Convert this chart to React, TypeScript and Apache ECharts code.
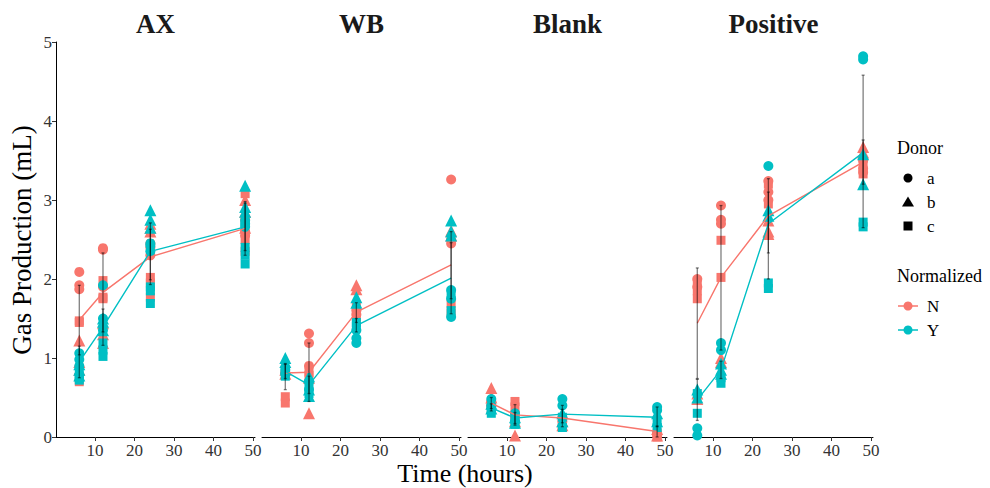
import React, { useEffect, useRef } from "react";
import * as echarts from "echarts";

// Facets, sampling times and factor levels
const panels = ["AX", "WB", "Blank", "Positive"];
const times = [6, 12, 24, 48];
const donors = ["a", "b", "c"];
const groups = ["N", "Y"];
const groupColors = ["#F8766D", "#00BFC4"];
const donorSymbols = ["circle", "triangle", "rect"];
const donorSizes = [10, 12, 9];
const xTicks = [10, 20, 30, 40, 50];

// Replicate readings (mL) per donor, one list per sampling time
const axN = {
  a: [[2.09, 1.92, 1.87], [2.39, 2.37, 1.9], [2.45, 2.4, 2.3], [2.75, 2.6, 2.55]],
  b: [[1.22, 0.95, 0.85], [1.44, 1.3, 1.19], [2.7, 2.65, 2.6], [3.0, 2.85, 2.65]],
  c: [[1.47, 1.45, 0.7], [1.98, 1.77, 1.75], [2.02, 1.95, 1.77], [3.08, 2.5, 2.35]],
};
const axY = {
  a: [[1.06, 0.98, 0.9], [1.92, 1.5, 1.35], [2.45, 2.42, 2.35], [2.74, 2.7, 2.66]],
  b: [[0.92, 0.85, 0.78], [1.5, 1.46, 1.35], [2.87, 2.75, 2.65], [3.18, 2.91, 2.85]],
  c: [[0.8, 0.75, 0.72], [1.19, 1.1, 1.02], [1.9, 1.85, 1.69], [2.4, 2.3, 2.19]],
};
const wbN = {
  a: [[0.82, 0.8], [1.31, 1.19, 0.9], [1.6, 1.55], [3.26, 2.45, 2.5]],
  b: [[0.85, 0.8], [0.3, 0.75], [1.92, 1.87], [2.61, 2.55]],
  c: [[0.51, 0.43], [0.82, 0.78], [1.65, 1.52], [1.69, 1.57]],
};
const wbY = {
  a: [[0.85, 0.8], [0.7, 0.6], [1.35, 1.19, 1.25], [1.86, 1.75, 1.52]],
  b: [[1.0, 0.95], [0.77, 0.52, 0.6], [1.77, 1.7], [2.74, 2.6, 2.55]],
  c: [[0.83, 0.77], [0.65, 0.55], [1.45, 1.4], [1.8, 1.6]],
};
const blankN = {
  a: [[0.45, 0.4], [0.3, 0.25], [0.25, 0.2], [0.05, 0.02]],
  b: [[0.62, 0.5], [0.02, 0.2], [0.2, 0.15], [0.1, 0.02]],
  c: [[0.4, 0.35], [0.45, 0.38], [0.15, 0.12], [0.05, 0.0]],
};
const blankY = {
  a: [[0.48, 0.4], [0.3, 0.2], [0.48, 0.4], [0.38, 0.34]],
  b: [[0.42, 0.36], [0.25, 0.18], [0.3, 0.2], [0.3, 0.2]],
  c: [[0.35, 0.3], [0.22, 0.16], [0.25, 0.12], [0.2, 0.12]],
};
const posN = {
  a: [[2.0, 1.9], [2.93, 2.75, 2.7], [3.24, 3.1, 3.0], [3.5, 3.4, 3.35]],
  b: [[0.55, 0.48], [1.0, 0.95], [2.74, 2.6, 2.57], [3.67, 3.6]],
  c: [[1.95, 1.85, 1.75], [2.49, 2.02], [3.2, 2.95], [3.45, 3.33]],
};
const posY = {
  a: [[0.11, 0.02], [1.19, 1.1], [3.43], [4.82, 4.78]],
  b: [[0.6, 0.5], [0.93, 0.85, 0.8], [2.87, 2.8], [3.58, 3.2]],
  c: [[0.55, 0.3], [0.75, 0.68], [1.95, 1.88], [2.72, 2.66]],
};

// Group means at each time
const axMeanN = [1.48, 1.83, 2.28, 2.64];
const axMeanY = [0.95, 1.39, 2.35, 2.66];
const wbMeanN = [0.81, 0.82, 1.58, 2.18];
const wbMeanY = [0.83, 0.66, 1.41, 2.01];
const blankMeanN = [0.43, 0.28, 0.24, 0.07];
const blankMeanY = [0.37, 0.24, 0.29, 0.25];
const posMeanN = [1.44, 2.02, 2.8, 3.48];
const posMeanY = [0.47, 0.85, 2.7, 3.6];

// Error bar limits [low, high] at each time
const axErrN = [[1.04, 1.92], [1.33, 2.33], [1.93, 2.63], [2.3, 2.98]];
const axErrY = [[0.75, 1.15], [1.16, 1.62], [1.99, 2.71], [2.36, 2.96]];
const wbErrN = [[0.6, 0.93], [0.45, 1.19], [1.45, 1.7], [1.75, 2.6]];
const wbErrY = [[0.74, 0.92], [0.55, 0.77], [1.33, 1.5], [1.56, 2.46]];
const blankErrN = [[0.36, 0.5], [0.15, 0.41], [0.13, 0.35], [0.0, 0.14]];
const blankErrY = [[0.33, 0.42], [0.17, 0.31], [0.18, 0.4], [0.13, 0.38]];
const posErrN = [[0.74, 2.14], [1.1, 2.93], [2.33, 3.27], [3.2, 3.76]];
const posErrY = [[0.21, 0.73], [0.74, 0.96], [2.0, 3.1], [2.65, 4.58]];

const replicates = [[axN, axY], [wbN, wbY], [blankN, blankY], [posN, posY]];
const means = [[axMeanN, axMeanY], [wbMeanN, wbMeanY], [blankMeanN, blankMeanY], [posMeanN, posMeanY]];
const errors = [[axErrN, axErrY], [wbErrN, wbErrY], [blankErrN, blankErrY], [posErrN, posErrY]];

const FONT = "Liberation Serif";
const panelLeft = [56, 262, 468, 674];
const panelWidth = 199;
const gridTop = 42;
const gridHeight = 395;

function buildOption() {
  const grid = panelLeft.map((l) => ({ left: l, top: gridTop, width: panelWidth, height: gridHeight }));

  const xAxis = panelLeft.map((_, i) => ({
    type: "value",
    gridIndex: i,
    min: 0.1,
    max: 50.5,
    splitLine: { show: false },
    axisLine: { show: true, lineStyle: { color: "#000", width: 1 } },
    axisTick: { show: true, length: 4, lineStyle: { color: "#333" }, customValues: xTicks },
    axisLabel: {
      show: true,
      customValues: xTicks,
      color: "#333",
      fontFamily: FONT,
      fontSize: 17,
      margin: 5,
    },
  }));

  const yAxis = panelLeft.map((_, i) => ({
    type: "value",
    gridIndex: i,
    min: 0,
    max: 5,
    interval: 1,
    splitLine: { show: false },
    axisLine: { show: i === 0, onZero: false, lineStyle: { color: "#000", width: 1 } },
    axisTick: { show: i === 0, length: 4, lineStyle: { color: "#333" } },
    axisLabel: { show: i === 0, color: "#333", fontFamily: FONT, fontSize: 17, margin: 4 },
  }));

  const series: any[] = [];

  // replicate points
  panels.forEach((_, p) => {
    groups.forEach((g, gi) => {
      donors.forEach((d, di) => {
        const vals = (replicates[p][gi] as any)[d] as number[][];
        const data: number[][] = [];
        vals.forEach((list, ti) => list.forEach((v) => data.push([times[ti], v])));
        series.push({
          type: "scatter",
          name: `${panels[p]}-${g}-${d}`,
          xAxisIndex: p,
          yAxisIndex: p,
          symbol: donorSymbols[di],
          symbolSize: donorSizes[di],
          itemStyle: { color: groupColors[gi], opacity: 1 },
          z: 2 + gi,
          silent: true,
          data,
        });
      });
    });
  });

  // mean lines
  panels.forEach((_, p) => {
    groups.forEach((g, gi) => {
      series.push({
        type: "line",
        name: `${panels[p]}-${g}-mean`,
        xAxisIndex: p,
        yAxisIndex: p,
        showSymbol: false,
        symbol: "none",
        lineStyle: { color: groupColors[gi], width: 1.4 },
        z: 5,
        silent: true,
        data: means[p][gi].map((m, ti) => [times[ti], m]),
      });
    });
  });

  // error bars
  panels.forEach((_, p) => {
    groups.forEach((g, gi) => {
      series.push({
        type: "custom",
        name: `${panels[p]}-${g}-err`,
        xAxisIndex: p,
        yAxisIndex: p,
        z: 6,
        silent: true,
        encode: { x: 0, y: [1, 2] },
        data: errors[p][gi].map((e, ti) => [times[ti], e[0], e[1]]),
        renderItem: (params: any, api: any) => {
          const lo = api.coord([api.value(0), api.value(1)]);
          const hi = api.coord([api.value(0), api.value(2)]);
          const cap = 1.5;
          const style = { stroke: "rgba(0,0,0,0.5)", lineWidth: 1.3, fill: "none" };
          return {
            type: "group",
            children: [
              { type: "line", shape: { x1: lo[0], y1: lo[1], x2: hi[0], y2: hi[1] }, style },
              { type: "line", shape: { x1: lo[0] - cap, y1: lo[1], x2: lo[0] + cap, y2: lo[1] }, style },
              { type: "line", shape: { x1: hi[0] - cap, y1: hi[1], x2: hi[0] + cap, y2: hi[1] }, style },
            ],
          };
        },
      });
    });
  });

  const graphic: any[] = [];
  panels.forEach((name, p) => {
    graphic.push({
      type: "text",
      x: panelLeft[p] + panelWidth / 2,
      y: 24,
      style: {
        text: name,
        fontFamily: FONT,
        fontWeight: "bold",
        fontSize: 27,
        fill: "#1a1a1a",
        align: "center",
        verticalAlign: "middle",
      },
    });
  });
  graphic.push({
    type: "text",
    x: 465,
    y: 473,
    style: { text: "Time (hours)", fontFamily: FONT, fontSize: 26, fill: "#000", align: "center", verticalAlign: "middle" },
  });
  graphic.push({
    type: "text",
    x: 22,
    y: 240,
    rotation: Math.PI / 2,
    style: { text: "Gas Production (mL)", fontFamily: FONT, fontSize: 27, fill: "#000", align: "center", verticalAlign: "middle" },
  });

  // legend: Donor (shape)
  const legendX = 897;
  const keyX = 908;
  const labelX = 927;
  graphic.push({
    type: "text",
    x: legendX,
    y: 148,
    style: { text: "Donor", fontFamily: FONT, fontSize: 18, fill: "#000", verticalAlign: "middle" },
  });
  const donorRows = [178, 202, 226];
  graphic.push({ type: "circle", shape: { cx: keyX, cy: donorRows[0], r: 4.5 }, style: { fill: "#000" } });
  graphic.push({
    type: "polygon",
    shape: { points: [[keyX, donorRows[1] - 5.5], [keyX + 6, donorRows[1] + 4.5], [keyX - 6, donorRows[1] + 4.5]] },
    style: { fill: "#000" },
  });
  graphic.push({ type: "rect", shape: { x: keyX - 4.5, y: donorRows[2] - 4.5, width: 9, height: 9 }, style: { fill: "#000" } });
  donors.forEach((d, i) => {
    graphic.push({
      type: "text",
      x: labelX,
      y: donorRows[i],
      style: { text: d, fontFamily: FONT, fontSize: 17, fill: "#000", verticalAlign: "middle" },
    });
  });

  // legend: Normalized (colour)
  graphic.push({
    type: "text",
    x: legendX,
    y: 276,
    style: { text: "Normalized", fontFamily: FONT, fontSize: 18, fill: "#000", verticalAlign: "middle" },
  });
  const groupRows = [306, 330];
  groups.forEach((g, i) => {
    graphic.push({
      type: "line",
      shape: { x1: keyX - 10, y1: groupRows[i], x2: keyX + 10, y2: groupRows[i] },
      style: { stroke: groupColors[i], lineWidth: 1.5 },
    });
    graphic.push({ type: "circle", shape: { cx: keyX, cy: groupRows[i], r: 4.5 }, style: { fill: groupColors[i] } });
    graphic.push({
      type: "text",
      x: labelX,
      y: groupRows[i],
      style: { text: g, fontFamily: FONT, fontSize: 17, fill: "#000", verticalAlign: "middle" },
    });
  });

  return {
    animation: false,
    backgroundColor: "#fff",
    textStyle: { fontFamily: FONT },
    grid,
    xAxis,
    yAxis,
    series,
    graphic,
  };
}

export default function App() {
  const ref = useRef<HTMLDivElement>(null);
  useEffect(() => {
    if (!ref.current) return;
    const chart = echarts.init(ref.current, null, { renderer: "svg" });
    chart.setOption(buildOption() as any);
    return () => chart.dispose();
  }, []);
  return <div ref={ref} style={{ position: "fixed", left: 0, top: 0, width: 990, height: 488, background: "#fff" }} />;
}
